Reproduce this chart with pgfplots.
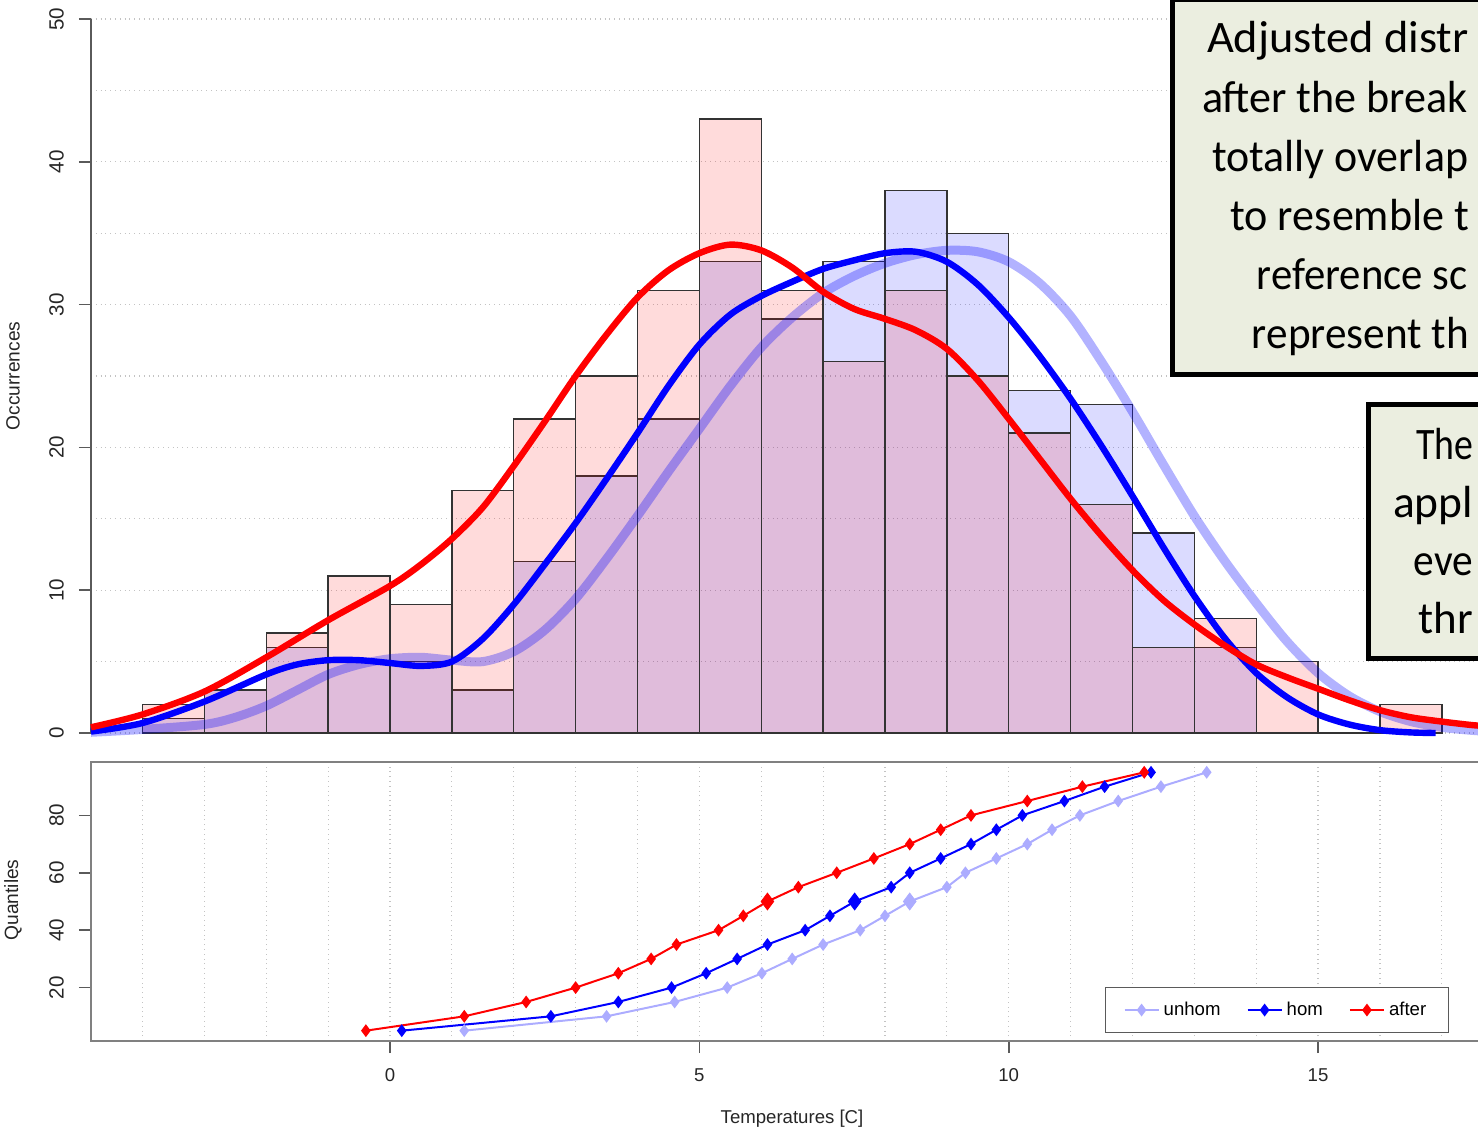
\documentclass[border=0pt]{standalone}
\usepackage{fontspec}
\setmainfont{Liberation Sans}
\newfontfamily\carlito{Carlito}
\usepackage{pgfplots}
\pgfplotsset{compat=1.18}
\definecolor{gridc}{RGB}{195,195,195}
\definecolor{axc}{RGB}{90,90,90}
\definecolor{boxc}{RGB}{128,128,128}
\definecolor{boxfill}{RGB}{235,238,224}
\definecolor{lblue}{RGB}{172,172,255}

\begin{document}
\begin{tikzpicture}
\useasboundingbox (0,0) rectangle (739pt,566pt);
\begin{scope}
\clip (0,0) rectangle (739pt,566pt);
% ---------------- top panel: histograms and densities
\begin{axis}[
  at={(45.5pt,199.5pt)}, anchor=south west,
  scale only axis, width=701.7pt, height=357pt,
  xmin=-4.833, xmax=17.85, ymin=0, ymax=50,
  clip=false,
  axis x line=none,
  axis y line*=left,
  y axis line style={axc, line width=0.8pt, -},
  ytick={0,10,...,50},
  minor ytick={5,15,...,45},
  ymajorgrids, yminorgrids,
  major grid style={gridc, dotted, line width=0.6pt},
  minor grid style={gridc, dotted, line width=0.6pt},
  minor tick length=0pt,
  tick align=outside, major tick length=6pt,
  tick style={axc, line width=0.8pt},
  /pgf/number format/assume math mode=true,
  yticklabel shift=4pt,
  yticklabel style={rotate=90, anchor=south, font=\fontsize{10.3}{12}\selectfont, text=black!85},
]
% hom histogram
\addplot[ybar interval, fill=blue, fill opacity=0.14, draw=black!80, line width=0.7pt] coordinates {
(-4,1) (-3,3) (-2,6) (-1,5) (0,5) (1,3) (2,12) (3,18) (4,22) (5,33) (6,29) (7,33) (8,38) (9,35) (10,24) (11,23) (12,14) (13,6) (14,0)};
% after histogram
\addplot[ybar interval, fill=red, fill opacity=0.14, draw=black!80, line width=0.7pt] coordinates {
(-4,2) (-3,3) (-2,7) (-1,11) (0,9) (1,17) (2,22) (3,25) (4,31) (5,43) (6,31) (7,26) (8,31) (9,25) (10,21) (11,16) (12,6) (13,8) (14,5) (15,0) (16,2) (17,0)};
% unhom density
\addplot[blue, opacity=0.3, line width=4.5pt, smooth] coordinates {
(-4.833,0.05) (-4,0.25) (-3,0.6) (-2.5,1.1) (-2,1.9) (-1.5,3.0) (-1,4.1) (-0.5,4.8) (0,5.2) (0.5,5.3) (1,5.1) (1.5,5.0) (2,5.7) (2.5,7.2) (3,9.4) (3.5,12.2) (4,15.2) (4.5,18.3) (5,21.3) (5.5,24.3) (6,27.0) (6.5,29.1) (7,30.8) (7.5,32.0) (8,32.9) (8.5,33.5) (9,33.8) (9.5,33.7) (10,33.0) (10.5,31.5) (11,29.2) (11.5,26.0) (12,22.5) (12.5,18.8) (13,15.2) (13.5,12.0) (14,9.1) (14.5,6.4) (15,4.2) (15.5,2.6) (16,1.5) (16.5,0.8) (17,0.4) (17.5,0.18) (17.85,0.1)};
% hom density
\addplot[blue, line width=3.2pt, smooth] coordinates {
(-4.833,0.1) (-4,0.7) (-3,2.2) (-2,4.1) (-1.5,4.8) (-1,5.1) (-0.5,5.1) (0,4.9) (0.5,4.7) (1,5.0) (1.5,6.6) (2,9.0) (2.5,11.8) (3,14.7) (3.5,17.8) (4,21.0) (4.5,24.3) (5,27.2) (5.5,29.3) (6,30.6) (6.5,31.6) (7,32.5) (7.5,33.1) (8,33.6) (8.5,33.7) (9,33.0) (9.5,31.4) (10,29.1) (10.5,26.4) (11,23.4) (11.5,20.1) (12,16.6) (12.5,13.0) (13,9.6) (13.5,6.6) (14,4.2) (14.5,2.5) (15,1.3) (15.5,0.6) (16,0.2) (16.5,0.04) (16.9,0)};
% after density
\addplot[red, line width=3.2pt, smooth] coordinates {
(-4.833,0.4) (-4,1.3) (-3,2.9) (-2,5.3) (-1,7.9) (0,10.3) (0.5,11.8) (1,13.6) (1.5,15.8) (2,18.7) (2.5,21.8) (3,25.0) (3.5,27.9) (4,30.5) (4.5,32.4) (5,33.6) (5.5,34.2) (6,33.8) (6.5,32.6) (7,30.9) (7.5,29.7) (8,29.0) (8.5,28.2) (9,26.9) (9.5,24.7) (10,22.0) (10.5,19.2) (11,16.4) (11.5,13.8) (12,11.4) (12.5,9.3) (13,7.6) (13.5,6.1) (14,4.8) (14.5,3.9) (15,3.1) (15.5,2.3) (16,1.6) (16.5,1.1) (17,0.8) (17.5,0.55) (17.85,0.45)};
\end{axis}
% ---------------- bottom panel: quantiles
\begin{axis}[
  at={(45.5pt,45.5pt)}, anchor=south west,
  scale only axis, width=701.7pt, height=139.5pt,
  xmin=-4.833, xmax=17.85, ymin=1.4, ymax=98.6,
  axis line style={boxc, line width=1pt},
  xtick={0,5,10,15}, minor xtick={-4,...,17},
  ytick={20,40,60,80},
  xtick pos=left, ytick pos=left,
  xmajorgrids, xminorgrids,
  major grid style={gridc, dotted, line width=0.6pt},
  minor grid style={gridc, dotted, line width=0.6pt},
  minor tick length=0pt,
  tick align=outside, major tick length=6pt,
  tick style={axc, line width=0.8pt},
  /pgf/number format/assume math mode=true,
  xticklabel shift=4.4pt,
  yticklabel shift=4pt,
  xticklabel style={font=\fontsize{9.3}{11}\selectfont, text=black!85},
  yticklabel style={rotate=90, anchor=south, font=\fontsize{10.3}{12}\selectfont, text=black!85},
  legend columns=3,
  legend style={at={(0.845,0.111)}, anchor=center, draw=axc, line width=0.6pt,
    font=\fontsize{9.3}{11}\selectfont, inner xsep=9pt, inner ysep=5pt,
    /tikz/every even column/.append style={column sep=11pt}},
]
\addplot[lblue, line width=1pt, mark=diamond*, mark size=2.4pt] coordinates {
(1.2,5) (3.5,10) (4.6,15) (5.45,20) (6.01,25) (6.5,30) (7.0,35) (7.6,40) (8.0,45) (8.4,50) (9.0,55) (9.3,60) (9.8,65) (10.3,70) (10.7,75) (11.15,80) (11.77,85) (12.46,90) (13.2,95)};
\addlegendentry{unhom}
\addplot[blue, line width=1pt, mark=diamond*, mark size=2.4pt] coordinates {
(0.19,5) (2.6,10) (3.69,15) (4.55,20) (5.11,25) (5.61,30) (6.1,35) (6.71,40) (7.11,45) (7.51,50) (8.1,55) (8.4,60) (8.9,65) (9.39,70) (9.8,75) (10.22,80) (10.9,85) (11.55,90) (12.3,95)};
\addlegendentry{hom}
\addplot[red, line width=1pt, mark=diamond*, mark size=2.4pt] coordinates {
(-0.39,5) (1.2,10) (2.2,15) (3.0,20) (3.69,25) (4.22,30) (4.63,35) (5.31,40) (5.71,45) (6.1,50) (6.6,55) (7.22,60) (7.82,65) (8.4,70) (8.9,75) (9.39,80) (10.3,85) (11.19,90) (12.19,95)};
\addlegendentry{after}
\addplot[lblue, only marks, mark=diamond*, mark size=4.2pt, forget plot] coordinates {(8.4,50)};
\addplot[blue, only marks, mark=diamond*, mark size=4.2pt, forget plot] coordinates {(7.51,50)};
\addplot[red, only marks, mark=diamond*, mark size=4.2pt, forget plot] coordinates {(6.1,50)};
\end{axis}
% axis titles
\node[rotate=90, font=\fontsize{9.6}{11}\selectfont, text=black!85] at (6.5pt,378pt) {Occurrences};
\node[rotate=90, font=\fontsize{9.6}{11}\selectfont, text=black!85] at (6.5pt,116pt) {Quantiles};
\node[font=\fontsize{9.3}{11}\selectfont, text=black!85] at (396pt,6.5pt) {Temperatures [C]};
% annotation boxes (cropped at the right edge of the picture)
\draw[line width=2.5pt, fill=boxfill] (586pt,566pt) rectangle (770pt,378.5pt);
\draw[line width=2.5pt, fill=boxfill] (684pt,363.5pt) rectangle (770pt,237pt);
\begin{scope}[every node/.style={anchor=base west, inner sep=0pt, font=\carlito\fontsize{22.5}{27}\selectfont}]
\node[xscale=1.03] at (603.3pt,539.5pt) {Adjusted distr};
\node[xscale=0.98] at (600.8pt,509.8pt) {after the break};
\node[xscale=0.975] at (605.8pt,480pt) {totally overlap};
\node[xscale=0.98] at (615pt,450.5pt) {to resemble t};
\node[xscale=0.95] at (628.3pt,421pt) {reference sc};
\node[xscale=0.96] at (625.8pt,391.5pt) {represent th};
\node[xscale=0.84] at (708pt,336.5pt) {The};
\node[xscale=1.01] at (696.3pt,307.5pt) {appl};
\node[xscale=0.92] at (706.7pt,278.5pt) {eve};
\node[xscale=1.0] at (709.2pt,249.5pt) {thr};
\end{scope}
\end{scope}
\end{tikzpicture}
\end{document}
